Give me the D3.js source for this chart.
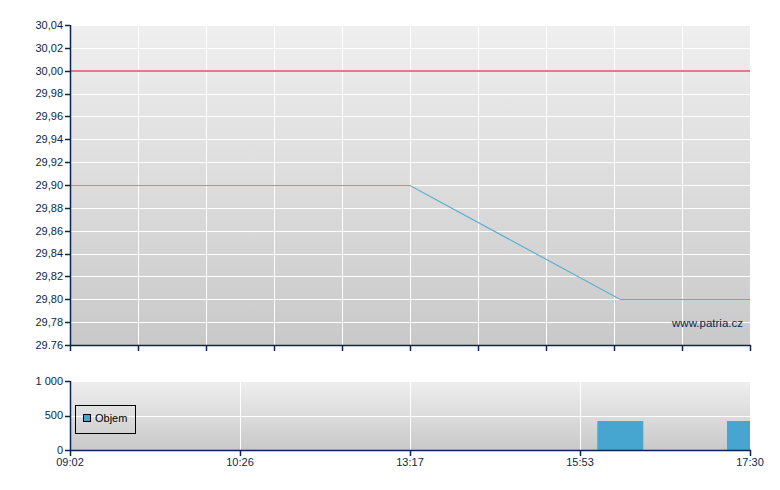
<!DOCTYPE html>
<html><head><meta charset="utf-8">
<script src="https://cdn.jsdelivr.net/npm/d3@7"></script>
<style>body{margin:0;background:#fff}svg{display:block}text{font-family:"Liberation Sans",Arial,sans-serif;font-size:11px;fill:#0b1f4d}</style>
</head><body><svg id="c" width="780" height="490"></svg>
<script>
// ---- data ----
const timeLabels = ["09:02","10:26","13:17","15:53","17:30"];
const priceTimes = ["09:02","13:17","16:16","17:30"];
const priceValues = [29.90, 29.90, 29.80, 29.80];
const previousClose = [30.00];
const volumeTimes = ["16:16","17:30"];
const volumeValues = [420, 420];
const priceTicks = [30.04,30.02,30.00,29.98,29.96,29.94,29.92,29.90,29.88,29.86,29.84,29.82,29.80,29.78,29.76];
const priceTickLabels = ["30,04","30,02","30,00","29,98","29,96","29,94","29,92","29,90","29,88","29,86","29,84","29,82","29,80","29,78","29.76"];
const volumeTicks = [0,500,1000];
const volumeTickLabels = ["0","500","1 000"];
const legendLabel = "Objem";
const watermark = "www.patria.cz";

(function(){
const toMin = s => { const [h,m] = s.split(":").map(Number); return h*60+m; };
const svg = d3.select("#c");
const X0 = 70, X1 = 750;
const navy = "#0a2456";

// polylinear time scale through the labelled positions
const x = d3.scaleLinear()
  .domain(timeLabels.map(toMin))
  .range(timeLabels.map((d,i)=> X0 + (X1-X0)*i/(timeLabels.length-1)));

const defs = svg.append("defs");
const g1 = defs.append("linearGradient").attr("id","bg").attr("x1",0).attr("y1",0).attr("x2",0).attr("y2",1);
g1.append("stop").attr("offset","0%").attr("stop-color","#efefef");
g1.append("stop").attr("offset","100%").attr("stop-color","#c9c9c9");
defs.append("clipPath").attr("id","clip1").append("rect").attr("x",X0).attr("y",25).attr("width",X1-X0).attr("height",320);
defs.append("clipPath").attr("id","clip2").append("rect").attr("x",X0).attr("y",381).attr("width",X1-X0).attr("height",69);

// ---- top chart ----
const yT = d3.scaleLinear().domain([29.76,30.04]).range([345,25]);
const tp = svg.append("g");
tp.append("rect").attr("x",X0).attr("y",25).attr("width",X1-X0).attr("height",320).attr("fill","url(#bg)");
const grid10 = d3.scaleLinear().domain([0,10]).range([X0,X1]);
tp.selectAll(".vg").data(d3.range(1,11)).join("line")
  .attr("x1",d=>Math.round(grid10(d))+0.5).attr("x2",d=>Math.round(grid10(d))+0.5).attr("y1",25).attr("y2",345)
  .attr("stroke","#fff").attr("stroke-width",1);
tp.selectAll(".hg").data(priceTicks).join("line")
  .attr("x1",X0).attr("x2",X1).attr("y1",d=>Math.round(yT(d))+0.5).attr("y2",d=>Math.round(yT(d))+0.5)
  .attr("stroke","#fff").attr("stroke-width",1);
tp.append("line").attr("x1",X0).attr("x2",X1)
  .attr("y1",Math.round(yT(previousClose[0]))).attr("y2",Math.round(yT(previousClose[0])))
  .attr("stroke","#e07c82").attr("stroke-width",2);
tp.append("path").datum(priceTimes.map((t,i)=>[toMin(t),priceValues[i]]))
  .attr("clip-path","url(#clip1)")
  .attr("d",d3.line().x(d=>x(d[0])).y(d=>Math.round(yT(d[1]))+0.5))
  .attr("fill","none").attr("stroke","#5eaed6").attr("stroke-width",1.2);
tp.append("text").attr("x",743).attr("y",327).attr("text-anchor","end").style("font-size","11.5px").text(watermark);

// axes top
tp.append("line").attr("x1",X0+0.5).attr("x2",X0+0.5).attr("y1",25).attr("y2",346).attr("stroke",navy).attr("stroke-width",1.5);
tp.append("line").attr("x1",X0).attr("x2",X1+1).attr("y1",345.5).attr("y2",345.5).attr("stroke",navy).attr("stroke-width",1.5);
tp.selectAll(".yt").data(priceTicks).join("line")
  .attr("x1",65).attr("x2",X0).attr("y1",d=>Math.round(yT(d))+0.5).attr("y2",d=>Math.round(yT(d))+0.5)
  .attr("stroke",navy).attr("stroke-width",1.5);
tp.selectAll(".yl").data(priceTicks).join("text")
  .attr("x",63).attr("y",d=>yT(d)).attr("dy","0.35em").attr("text-anchor","end")
  .text((d,i)=>priceTickLabels[i]);
tp.selectAll(".xt").data(d3.range(0,11)).join("line")
  .attr("x1",d=>Math.round(grid10(d))+0.5).attr("x2",d=>Math.round(grid10(d))+0.5).attr("y1",345).attr("y2",351)
  .attr("stroke",navy).attr("stroke-width",1.5);

// ---- bottom chart ----
const yB = d3.scaleLinear().domain([0,1000]).range([450,381]);
const bot = svg.append("g");
bot.append("rect").attr("x",X0).attr("y",381).attr("width",X1-X0).attr("height",69).attr("fill","url(#bg)");
bot.selectAll(".vg").data(timeLabels.slice(1)).join("line")
  .attr("x1",d=>Math.round(x(toMin(d)))+0.5).attr("x2",d=>Math.round(x(toMin(d)))+0.5).attr("y1",381).attr("y2",450)
  .attr("stroke","#fff").attr("stroke-width",1);
bot.selectAll(".hg").data(volumeTicks.slice(1)).join("line")
  .attr("x1",X0).attr("x2",X1).attr("y1",d=>Math.round(yB(d))+0.5).attr("y2",d=>Math.round(yB(d))+0.5)
  .attr("stroke","#fff").attr("stroke-width",1);
const barW = 46;
bot.append("g").attr("clip-path","url(#clip2)").selectAll("rect").data(volumeTimes.map((t,i)=>[toMin(t),volumeValues[i]])).join("rect")
  .attr("x",d=>x(d[0])-barW/2).attr("width",barW)
  .attr("y",d=>yB(d[1])).attr("height",d=>yB(0)-yB(d[1]))
  .attr("fill","#46a6cf");
// legend
const lg = bot.append("g");
lg.append("rect").attr("x",75.5).attr("y",405.5).attr("width",60).attr("height",28).attr("fill","none").attr("stroke","#000").attr("stroke-width",1);
lg.append("rect").attr("x",83.5).attr("y",414.5).attr("width",7).attr("height",7).attr("fill","#46a6cf").attr("stroke","#000").attr("stroke-width",1);
lg.append("text").attr("x",95).attr("y",418).attr("dy","0.35em").style("fill","#000").text(legendLabel);

// axes bottom
bot.append("line").attr("x1",X0+0.5).attr("x2",X0+0.5).attr("y1",381).attr("y2",451).attr("stroke",navy).attr("stroke-width",1.5);
bot.append("line").attr("x1",X0).attr("x2",X1+1).attr("y1",450.5).attr("y2",450.5).attr("stroke",navy).attr("stroke-width",1.5);
bot.selectAll(".yt").data(volumeTicks).join("line")
  .attr("x1",65).attr("x2",X0).attr("y1",d=>Math.round(yB(d))+0.5).attr("y2",d=>Math.round(yB(d))+0.5)
  .attr("stroke",navy).attr("stroke-width",1.5);
bot.selectAll(".yl").data(volumeTicks).join("text")
  .attr("x",63).attr("y",d=>yB(d)).attr("dy","0.35em").attr("text-anchor","end")
  .text((d,i)=>volumeTickLabels[i]);
bot.selectAll(".xt").data(timeLabels).join("line")
  .attr("x1",d=>Math.round(x(toMin(d)))+0.5).attr("x2",d=>Math.round(x(toMin(d)))+0.5).attr("y1",450).attr("y2",456)
  .attr("stroke",navy).attr("stroke-width",1.5);
bot.selectAll(".xl").data(timeLabels).join("text")
  .attr("x",d=>x(toMin(d))).attr("y",466).attr("text-anchor","middle").text(d=>d);
})();
</script></body></html>
